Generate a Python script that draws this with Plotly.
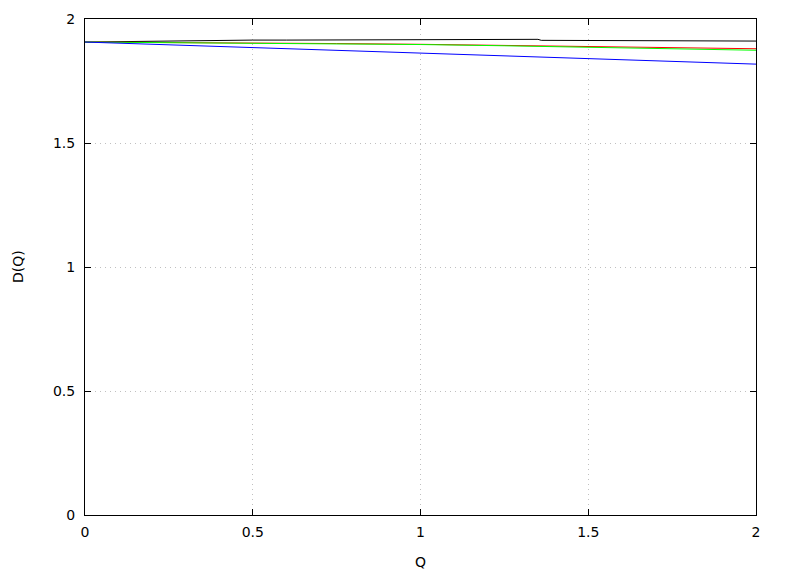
import plotly.graph_objects as go

q_smooth = [0.0, 0.25, 0.5, 0.75, 1.0, 1.25, 1.5, 1.75, 2.0]
d_red = [1.907, 1.906, 1.904, 1.901, 1.898, 1.894, 1.890, 1.885, 1.880]
d_green = [1.907, 1.905, 1.903, 1.900, 1.897, 1.892, 1.886, 1.880, 1.874]
d_blue = [1.907, 1.896, 1.885, 1.874, 1.864, 1.853, 1.841, 1.830, 1.818]

q_black = [0.0, 0.1, 0.2, 0.3, 0.4, 0.5, 0.6, 0.63, 0.64, 0.8, 1.0, 1.2, 1.35, 1.36, 1.5, 1.7, 1.9, 1.95, 2.0]
d_black = [1.907, 1.909, 1.911, 1.913, 1.914, 1.915, 1.915, 1.915, 1.918, 1.918, 1.918, 1.918, 1.918, 1.914, 1.913, 1.913, 1.912, 1.911, 1.911]

x_ticks = [0, 0.5, 1, 1.5, 2]
x_labels = ["0", "0.5", "1", "1.5", "2"]
y_ticks = [0, 0.5, 1, 1.5, 2]
y_labels = ["0", "0.5", "1", "1.5", "2"]

fig = go.Figure()
fig.add_trace(go.Scatter(x=q_black, y=d_black, mode="lines", line=dict(color="black", width=1)))
fig.add_trace(go.Scatter(x=q_smooth, y=d_red, mode="lines", line=dict(color="red", width=1)))
fig.add_trace(go.Scatter(x=q_smooth, y=d_green, mode="lines", line=dict(color="#00ff00", width=1)))
fig.add_trace(go.Scatter(x=q_smooth, y=d_blue, mode="lines", line=dict(color="blue", width=1)))

axis_common = dict(
    showline=True, linecolor="black", linewidth=1, mirror="ticks",
    ticks="inside", ticklen=6, tickcolor="black",
    showgrid=True, gridcolor="#c0c0c0", griddash="1px,4px", gridwidth=1,
    zeroline=False, automargin=False,
    tickfont=dict(family="DejaVu Sans", size=14, color="black"),
)

plot_h = 496
fig.update_layout(
    width=772, height=568,
    margin=dict(l=77, r=24, t=11, b=61),
    paper_bgcolor="white", plot_bgcolor="white",
    showlegend=False,
    font=dict(family="DejaVu Sans", size=14, color="black"),
    xaxis=dict(range=[0, 2], tickvals=x_ticks, ticktext=x_labels,
               ticklabelstandoff=4, **axis_common),
    yaxis=dict(range=[0, 2], tickvals=y_ticks, ticktext=y_labels,
               ticklabelstandoff=6, **axis_common),
    annotations=[
        dict(text="Q", xref="paper", yref="paper", x=0.5, y=-47 / plot_h,
             xanchor="center", yanchor="middle", showarrow=False,
             font=dict(family="DejaVu Sans", size=14, color="black")),
        dict(text="D(Q)", xref="paper", yref="paper", x=-0.0998, y=0.5,
             xanchor="center", yanchor="middle", showarrow=False, textangle=-90,
             font=dict(family="DejaVu Sans", size=14, color="black")),
    ],
)

fig.write_html("out.html")
